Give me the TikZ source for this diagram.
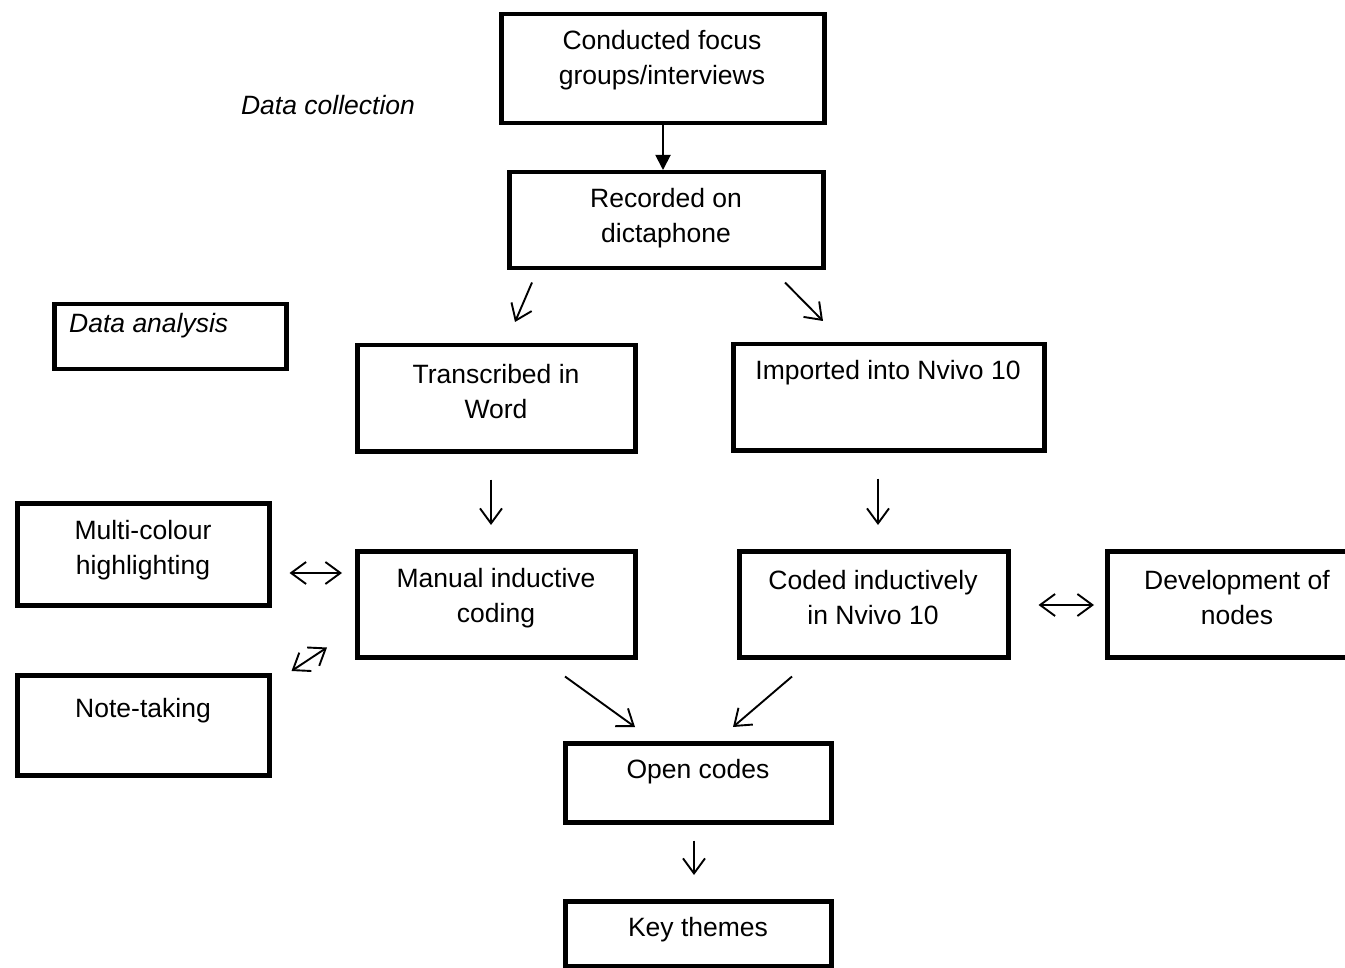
\documentclass[tikz,border=0pt]{standalone}
\usepackage{fontspec}
\setmainfont{Liberation Sans}
\usetikzlibrary{arrows.meta}
\begin{document}
\begin{tikzpicture}[x=1pt,y=-1pt,
  box/.style={draw,line width=4.5pt,rectangle,anchor=north west,inner sep=0pt},
  label/.style={align=center,inner sep=0pt,font=\fontsize{26.5}{35}\selectfont},
  barb/.tip={Straight Barb[length=15pt,width=22pt,line width=1.9pt]},
  arr/.style={line width=1.9pt,-barb},
  darr/.style={line width=1.9pt,barb-barb},
  farr/.style={line width=1.9pt,-{Triangle[length=15pt,width=15pt]}}]
\useasboundingbox (0,0) rectangle (1345,968);

% boxes
\node[box,minimum width=323pt,minimum height=109pt] (conducted) at (499,12) {};
\node[box,minimum width=314pt,minimum height=96pt] (recorded) at (507,170) {};
\node[box,minimum width=232pt,minimum height=65pt] (analysis) at (52,302) {};
\node[box,minimum width=278pt,minimum height=106pt] (transcribed) at (355,343) {};
\node[box,minimum width=311pt,minimum height=106pt] (imported) at (731,342) {};
\node[box,minimum width=252pt,minimum height=102pt] (multi) at (15,501) {};
\node[box,minimum width=278pt,minimum height=106pt] (manual) at (355,549) {};
\node[box,minimum width=269pt,minimum height=106pt] (coded) at (737,549) {};
\node[box,minimum width=260pt,minimum height=106pt] (develop) at (1105,549) {};
\node[box,minimum width=252pt,minimum height=100pt] (note) at (15,673) {};
\node[box,minimum width=266pt,minimum height=79pt] (open) at (563,741) {};
\node[box,minimum width=266pt,minimum height=65pt] (key) at (563,899) {};

% texts
\node[label] (conducted-t) at (662,60) {Conducted focus\\groups/interviews};
\node[label] (recorded-t) at (666,218) {Recorded on\\dictaphone};
\node[label,font=\fontsize{26.5}{35}\selectfont\itshape] (collection-t) at (328,105) {Data collection};
\node[label,anchor=west,font=\fontsize{26.5}{35}\selectfont\itshape] (analysis-t) at (69,326) {Data analysis};
\node[label] (transcribed-t) at (496,392) {Transcribed in\\Word};
\node[label] (imported-t) at (888,373) {Imported into Nvivo 10};
\node[label] (multi-t) at (143,550) {Multi-colour\\highlighting};
\node[label] (manual-t) at (496,598) {Manual inductive\\coding};
\node[label] (coded-t) at (873,598) {Coded inductively\\in Nvivo 10};
\node[label] (develop-t) at (1237,598) {Development of\\nodes};
\node[label] (note-t) at (143,711) {Note-taking};
\node[label] (open-t) at (698,772) {Open codes};
\node[label] (key-t) at (698,930) {Key themes};

% connectors
\draw[farr] ([xshift=164pt]conducted.south west) -- ([xshift=156pt]recorded.north west);
\draw[arr] ([shift={(25,12)}]recorded.south west) -- ([shift={(160,-21)}]transcribed.north west);
\draw[arr] ([shift={(278,12)}]recorded.south west) -- ([shift={(92,-21)}]imported.north west);
\draw[arr] ([shift={(136,26)}]transcribed.south west) -- ([shift={(136,-24)}]manual.north west);
\draw[arr] ([shift={(147,26)}]imported.south west) -- ([shift={(141,-24)}]coded.north west);
\draw[darr] ([shift={(18,72)}]multi.north east) -- ([shift={(-13,24)}]manual.north west);
\draw[darr] ([shift={(20,-2)}]note.north east) -- ([shift={(-28,-12)}]manual.south west);
\draw[darr] ([shift={(28,56)}]coded.north east) -- ([shift={(-11,56)}]develop.north west);
\draw[arr] ([shift={(210,17)}]manual.south west) -- ([shift={(72,-14)}]open.north west);
\draw[arr] ([shift={(55,17)}]coded.south west) -- ([shift={(170,-14)}]open.north west);
\draw[arr] ([shift={(131,16)}]open.south west) -- ([shift={(131,-24)}]key.north west);
\end{tikzpicture}
\end{document}
